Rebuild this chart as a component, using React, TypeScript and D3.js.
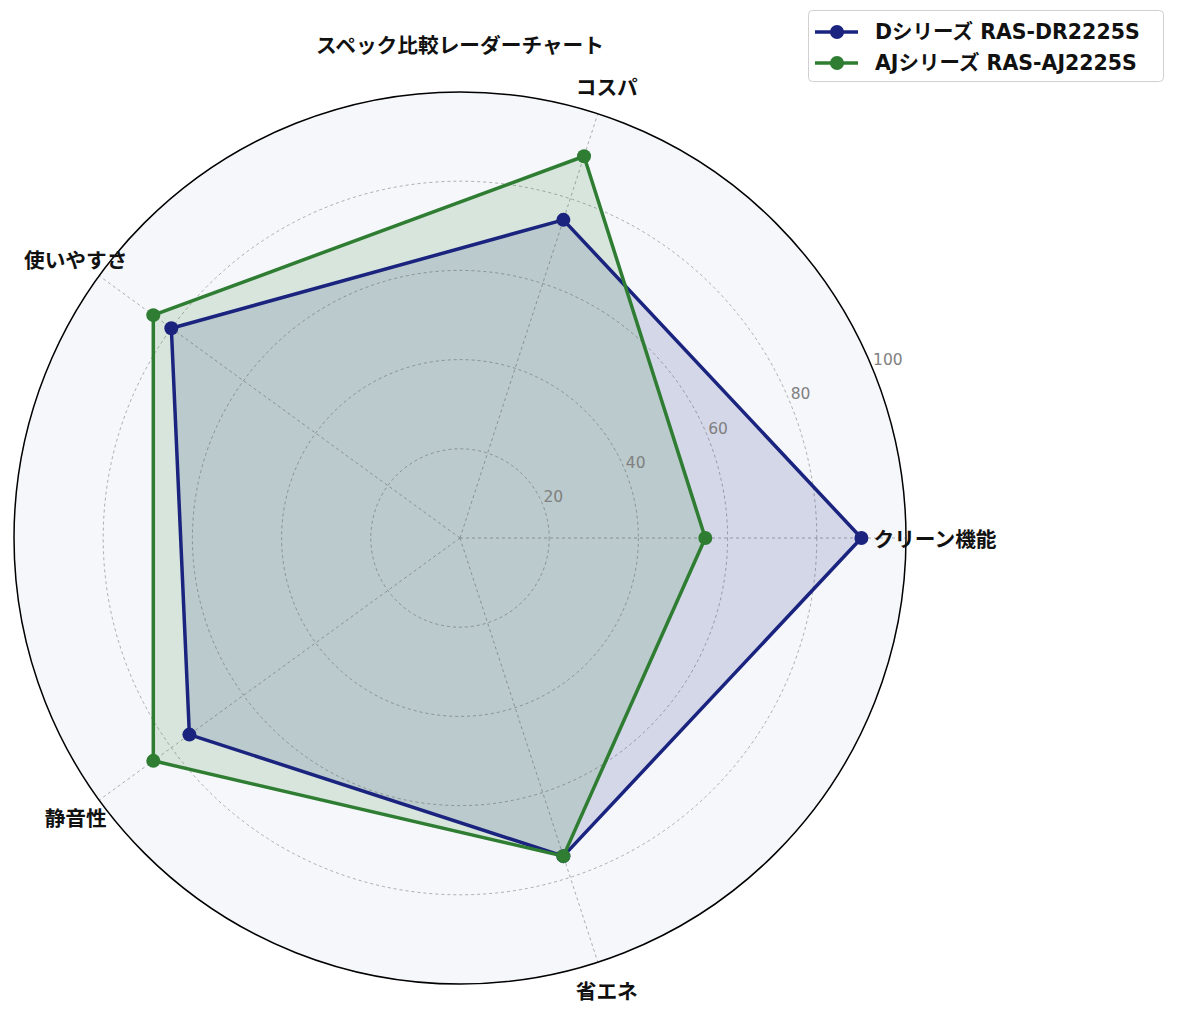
import * as d3 from "d3";

const WIDTH = 1178;
const HEIGHT = 1015;
const CENTER = { x: 460, y: 538 };
const RADIUS = 446;

const CATEGORIES = ["クリーン機能", "コスパ", "使いやすさ", "静音性", "省エネ"];
const SERIES_NAMES = ["Dシリーズ RAS-DR2225S", "AJシリーズ RAS-AJ2225S"];
const D_VALUES = [90, 75, 80, 75, 75];
const AJ_VALUES = [55, 90, 85, 85, 75];
const R_TICKS = [20, 40, 60, 80, 100];
const COLORS = ["#1a237e", "#2e7d32"];

const JP_FONT = "'Noto Sans CJK JP', 'Noto Sans', sans-serif";
const MIX_FONT = "'DejaVu Sans', 'Noto Sans CJK JP', sans-serif";
const NUM_FONT = "'DejaVu Sans', sans-serif";

export default function App() {
  const rScale = d3.scaleLinear().domain([0, 100]).range([0, RADIUS]);
  // angles counter-clockwise from 3 o'clock, like a matplotlib polar axis
  const angle = (i: number) => (i * 2 * Math.PI) / CATEGORIES.length;
  const pt = (i: number, v: number): [number, number] => [
    CENTER.x + rScale(v) * Math.cos(angle(i)),
    CENTER.y - rScale(v) * Math.sin(angle(i)),
  ];

  const line = d3.line<[number, number]>().curve(d3.curveLinearClosed);
  const allSeries = [D_VALUES, AJ_VALUES];

  const labelR = RADIUS + 29;
  const rLabelAngle = (22.5 * Math.PI) / 180;

  return (
    <svg
      width={WIDTH}
      height={HEIGHT}
      style={{ position: "absolute", left: 0, top: 0 }}
    >
      <rect width={WIDTH} height={HEIGHT} fill="#ffffff" />
      <circle cx={CENTER.x} cy={CENTER.y} r={RADIUS} fill="#f5f7fb" />

      {/* grid */}
      {R_TICKS.slice(0, -1).map((t) => (
        <circle
          key={t}
          cx={CENTER.x}
          cy={CENTER.y}
          r={rScale(t)}
          fill="none"
          stroke="#999"
          strokeWidth={0.8}
          strokeDasharray="3,3"
        />
      ))}
      {CATEGORIES.map((c, i) => {
        const [x, y] = pt(i, 100);
        return (
          <line
            key={c}
            x1={CENTER.x}
            y1={CENTER.y}
            x2={x}
            y2={y}
            stroke="#999"
            strokeWidth={0.8}
            strokeDasharray="3,3"
          />
        );
      })}

      {/* series */}
      {allSeries.map((vals, s) => {
        const pts = vals.map((v, i) => pt(i, v));
        return (
          <path
            key={s}
            d={line(pts) ?? ""}
            fill={COLORS[s]}
            fillOpacity={0.15}
            stroke="none"
          />
        );
      })}
      {allSeries.map((vals, s) => {
        const pts = vals.map((v, i) => pt(i, v));
        return (
          <g key={s}>
            <path
              d={line(pts) ?? ""}
              fill="none"
              stroke={COLORS[s]}
              strokeWidth={3.5}
              strokeLinejoin="round"
            />
            {pts.map(([x, y], i) => (
              <circle key={i} cx={x} cy={y} r={7} fill={COLORS[s]} />
            ))}
          </g>
        );
      })}

      <circle
        cx={CENTER.x}
        cy={CENTER.y}
        r={RADIUS}
        fill="none"
        stroke="#000"
        strokeWidth={1.5}
      />

      {/* radial tick labels */}
      {R_TICKS.map((t) => (
        <text
          key={t}
          x={CENTER.x + rScale(t) * Math.cos(rLabelAngle) + 1}
          y={CENTER.y - rScale(t) * Math.sin(rLabelAngle) - 2}
          fontFamily={NUM_FONT}
          fontSize={15.5}
          fill="#808080"
        >
          {t}
        </text>
      ))}

      {/* category labels */}
      {CATEGORIES.map((c, i) => (
        <text
          key={c}
          x={CENTER.x + labelR * Math.cos(angle(i))}
          y={CENTER.y - labelR * Math.sin(angle(i))}
          textAnchor="middle"
          dominantBaseline="central"
          fontFamily={JP_FONT}
          fontWeight="bold"
          fontSize={20.7}
          fill="#111"
        >
          {c}
        </text>
      ))}

      <text
        x={460}
        y={44}
        textAnchor="middle"
        dominantBaseline="central"
        fontFamily={JP_FONT}
        fontWeight="bold"
        fontSize={20.7}
        fill="#111"
      >
        スペック比較レーダーチャート
      </text>

      {/* legend */}
      <g transform="translate(808,10)">
        <rect
          x={0.5}
          y={0.5}
          width={355}
          height={71}
          rx={4}
          fill="#fff"
          fillOpacity={0.85}
          stroke="#d0d0d0"
          strokeWidth={1}
        />
        {SERIES_NAMES.map((n, s) => (
          <g key={n} transform={`translate(0,${22 + s * 31})`}>
            <line x1={7} x2={50} y1={0} y2={0} stroke={COLORS[s]} strokeWidth={3.5} />
            <circle cx={29} cy={0} r={7} fill={COLORS[s]} />
            <text
              x={67}
              y={0}
              dominantBaseline="central"
              fontFamily={MIX_FONT}
              fontWeight="bold"
              fontSize={20.5}
              fill="#111"
            >
              {n}
            </text>
          </g>
        ))}
      </g>
    </svg>
  );
}
